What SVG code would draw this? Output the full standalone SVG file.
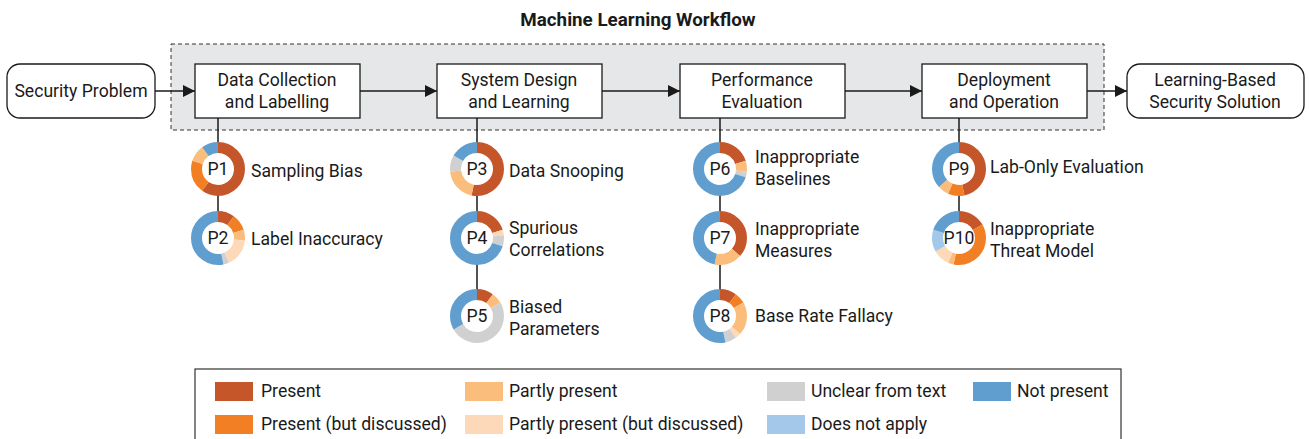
<svg xmlns="http://www.w3.org/2000/svg" width="1309" height="439" viewBox="0 0 1309 439">
<style>
text{font-family:Roboto,"Liberation Sans",sans-serif;font-size:17.6px;fill:#1a1a1a}
.title{font-weight:bold;font-size:18.8px}
.mid{text-anchor:middle}
.box{fill:#fff;stroke:#1a1a1a;stroke-width:1.3}
.conn{stroke:#1a1a1a;stroke-width:1.5;fill:none}
.seg{fill:none;stroke-width:11}
.pres{stroke:#c4562a}.presd{stroke:#f27f24}.part{stroke:#fbbd7b}.partd{stroke:#fdd9ba}.unc{stroke:#d0d0d0}.dna{stroke:#a3c8ea}.not{stroke:#5f9ecf}
.hole{fill:#fff}
</style>
<defs>
<marker id="arr" markerUnits="userSpaceOnUse" markerWidth="12" markerHeight="12" refX="12" refY="6" orient="auto">
<path d="M0,0 L12,6 L0,12 z" fill="#1a1a1a"/>
</marker>
</defs>
<rect width="1309" height="439" fill="#fff"/>
<text x="638" y="26" class="title mid">Machine Learning Workflow</text>
<rect id="workflow" x="171" y="44" width="933" height="86" fill="#e6e7e8" stroke="#333" stroke-width="1" stroke-dasharray="4 3"/>

<g id="connectors">
<line class="conn" x1="155" y1="91" x2="195" y2="91" marker-end="url(#arr)"/>
<line class="conn" x1="360" y1="91" x2="437" y2="91" marker-end="url(#arr)"/>
<line class="conn" x1="602" y1="91" x2="680" y2="91" marker-end="url(#arr)"/>
<line class="conn" x1="845" y1="91" x2="922" y2="91" marker-end="url(#arr)"/>
<line class="conn" x1="1087" y1="91" x2="1127" y2="91" marker-end="url(#arr)"/>
<line class="conn" x1="218" y1="118" x2="218" y2="238"/>
<line class="conn" x1="477" y1="118" x2="477" y2="316"/>
<line class="conn" x1="720" y1="118" x2="720" y2="316"/>
<line class="conn" x1="959" y1="118" x2="959" y2="238"/>
</g>

<g id="security-problem"><rect x="7" y="64" width="148" height="54" rx="13" class="box"/><text x="81" y="97" class="mid">Security Problem</text></g>
<g id="data-collection"><rect x="195" y="64" width="165" height="54" class="box"/><text x="277" y="86" class="mid">Data Collection</text><text x="277" y="108" class="mid">and Labelling</text></g>
<g id="system-design"><rect x="437" y="64" width="165" height="54" class="box"/><text x="519" y="86" class="mid">System Design</text><text x="519" y="108" class="mid">and Learning</text></g>
<g id="performance"><rect x="680" y="64" width="165" height="54" class="box"/><text x="762" y="86" class="mid">Performance</text><text x="762" y="108" class="mid">Evaluation</text></g>
<g id="deployment"><rect x="922" y="64" width="165" height="54" class="box"/><text x="1004" y="86" class="mid">Deployment</text><text x="1004" y="108" class="mid">and Operation</text></g>
<g id="solution"><rect x="1127" y="64" width="177" height="54" rx="13" class="box"/><text x="1215" y="86" class="mid">Learning-Based</text><text x="1215" y="108" class="mid">Security Solution</text></g>

<g id="p1" transform="translate(218 169)"><circle r="16" class="hole"/><g transform="rotate(-90)">
<circle r="21.5" pathLength="30" class="seg pres" stroke-dasharray="18 30" stroke-dashoffset="0"/>
<circle r="21.5" pathLength="30" class="seg presd" stroke-dasharray="6 30" stroke-dashoffset="-18"/>
<circle r="21.5" pathLength="30" class="seg part" stroke-dasharray="3 30" stroke-dashoffset="-24"/>
<circle r="21.5" pathLength="30" class="seg not" stroke-dasharray="3 30" stroke-dashoffset="-27"/>
</g><text y="6" class="mid">P1</text></g>
<text x="251" y="177">Sampling Bias</text>

<g id="p2" transform="translate(218 238)"><circle r="16" class="hole"/><g transform="rotate(-90)">
<circle r="21.5" pathLength="30" class="seg pres" stroke-dasharray="3 30" stroke-dashoffset="0"/>
<circle r="21.5" pathLength="30" class="seg presd" stroke-dasharray="3 30" stroke-dashoffset="-3"/>
<circle r="21.5" pathLength="30" class="seg part" stroke-dasharray="2 30" stroke-dashoffset="-6"/>
<circle r="21.5" pathLength="30" class="seg partd" stroke-dasharray="5 30" stroke-dashoffset="-8"/>
<circle r="21.5" pathLength="30" class="seg unc" stroke-dasharray="1 30" stroke-dashoffset="-13"/>
<circle r="21.5" pathLength="30" class="seg not" stroke-dasharray="16 30" stroke-dashoffset="-14"/>
</g><text y="6" class="mid">P2</text></g>
<text x="251" y="245">Label Inaccuracy</text>

<g id="p3" transform="translate(477 169)"><circle r="16" class="hole"/><g transform="rotate(-90)">
<circle r="21.5" pathLength="30" class="seg pres" stroke-dasharray="16 30" stroke-dashoffset="0"/>
<circle r="21.5" pathLength="30" class="seg part" stroke-dasharray="6 30" stroke-dashoffset="-16"/>
<circle r="21.5" pathLength="30" class="seg unc" stroke-dasharray="3 30" stroke-dashoffset="-22"/>
<circle r="21.5" pathLength="30" class="seg not" stroke-dasharray="5 30" stroke-dashoffset="-25"/>
</g><text y="6" class="mid">P3</text></g>
<text x="509" y="177">Data Snooping</text>

<g id="p4" transform="translate(477 238)"><circle r="16" class="hole"/><g transform="rotate(-90)">
<circle r="21.5" pathLength="30" class="seg pres" stroke-dasharray="6 30" stroke-dashoffset="0"/>
<circle r="21.5" pathLength="30" class="seg partd" stroke-dasharray="1 30" stroke-dashoffset="-6"/>
<circle r="21.5" pathLength="30" class="seg unc" stroke-dasharray="2 30" stroke-dashoffset="-7"/>
<circle r="21.5" pathLength="30" class="seg not" stroke-dasharray="21 30" stroke-dashoffset="-9"/>
</g><text y="6" class="mid">P4</text></g>
<text x="509" y="234">Spurious</text><text x="509" y="256">Correlations</text>

<g id="p5" transform="translate(477 316)"><circle r="16" class="hole"/><g transform="rotate(-90)">
<circle r="21.5" pathLength="30" class="seg pres" stroke-dasharray="3 30" stroke-dashoffset="0"/>
<circle r="21.5" pathLength="30" class="seg part" stroke-dasharray="2 30" stroke-dashoffset="-3"/>
<circle r="21.5" pathLength="30" class="seg unc" stroke-dasharray="15 30" stroke-dashoffset="-5"/>
<circle r="21.5" pathLength="30" class="seg not" stroke-dasharray="10 30" stroke-dashoffset="-20"/>
</g><text y="6" class="mid">P5</text></g>
<text x="509" y="313">Biased</text><text x="509" y="335">Parameters</text>

<g id="p6" transform="translate(720 169)"><circle r="16" class="hole"/><g transform="rotate(-90)">
<circle r="21.5" pathLength="30" class="seg pres" stroke-dasharray="6 30" stroke-dashoffset="0"/>
<circle r="21.5" pathLength="30" class="seg part" stroke-dasharray="2 30" stroke-dashoffset="-6"/>
<circle r="21.5" pathLength="30" class="seg unc" stroke-dasharray="1 30" stroke-dashoffset="-8"/>
<circle r="21.5" pathLength="30" class="seg not" stroke-dasharray="21 30" stroke-dashoffset="-9"/>
</g><text y="6" class="mid">P6</text></g>
<text x="755" y="163">Inappropriate</text><text x="755" y="185">Baselines</text>

<g id="p7" transform="translate(720 238)"><circle r="16" class="hole"/><g transform="rotate(-90)">
<circle r="21.5" pathLength="30" class="seg pres" stroke-dasharray="11 30" stroke-dashoffset="0"/>
<circle r="21.5" pathLength="30" class="seg part" stroke-dasharray="5 30" stroke-dashoffset="-11"/>
<circle r="21.5" pathLength="30" class="seg not" stroke-dasharray="14 30" stroke-dashoffset="-16"/>
</g><text y="6" class="mid">P7</text></g>
<text x="755" y="235">Inappropriate</text><text x="755" y="257">Measures</text>

<g id="p8" transform="translate(720 316)"><circle r="16" class="hole"/><g transform="rotate(-90)">
<circle r="21.5" pathLength="30" class="seg pres" stroke-dasharray="3 30" stroke-dashoffset="0"/>
<circle r="21.5" pathLength="30" class="seg presd" stroke-dasharray="2 30" stroke-dashoffset="-3"/>
<circle r="21.5" pathLength="30" class="seg part" stroke-dasharray="6 30" stroke-dashoffset="-5"/>
<circle r="21.5" pathLength="30" class="seg partd" stroke-dasharray="1 30" stroke-dashoffset="-11"/>
<circle r="21.5" pathLength="30" class="seg unc" stroke-dasharray="2 30" stroke-dashoffset="-12"/>
<circle r="21.5" pathLength="30" class="seg not" stroke-dasharray="16 30" stroke-dashoffset="-14"/>
</g><text y="6" class="mid">P8</text></g>
<text x="755" y="322">Base Rate Fallacy</text>

<g id="p9" transform="translate(959 169)"><circle r="16" class="hole"/><g transform="rotate(-90)">
<circle r="21.5" pathLength="30" class="seg pres" stroke-dasharray="14 30" stroke-dashoffset="0"/>
<circle r="21.5" pathLength="30" class="seg presd" stroke-dasharray="3 30" stroke-dashoffset="-14"/>
<circle r="21.5" pathLength="30" class="seg part" stroke-dasharray="2 30" stroke-dashoffset="-17"/>
<circle r="21.5" pathLength="30" class="seg not" stroke-dasharray="11 30" stroke-dashoffset="-19"/>
</g><text y="6" class="mid">P9</text></g>
<text x="990" y="173">Lab-Only Evaluation</text>

<g id="p10" transform="translate(959 238)"><circle r="16" class="hole"/><g transform="rotate(-90)">
<circle r="21.5" pathLength="30" class="seg pres" stroke-dasharray="5 30" stroke-dashoffset="0"/>
<circle r="21.5" pathLength="30" class="seg presd" stroke-dasharray="11 30" stroke-dashoffset="-5"/>
<circle r="21.5" pathLength="30" class="seg part" stroke-dasharray="1 30" stroke-dashoffset="-16"/>
<circle r="21.5" pathLength="30" class="seg partd" stroke-dasharray="3 30" stroke-dashoffset="-17"/>
<circle r="21.5" pathLength="30" class="seg dna" stroke-dasharray="4 30" stroke-dashoffset="-20"/>
<circle r="21.5" pathLength="30" class="seg not" stroke-dasharray="6 30" stroke-dashoffset="-24"/>
</g><text y="6" class="mid">P10</text></g>
<text x="990" y="235">Inappropriate</text><text x="990" y="257">Threat Model</text>

<g id="legend">
<rect x="195" y="369" width="926" height="90" fill="#fff" stroke="#333" stroke-width="1.2"/>
<rect x="215" y="382" width="38" height="19" fill="#c4562a"/><text x="261" y="397">Present</text>
<rect x="215" y="415" width="38" height="19" fill="#f27f24"/><text x="261" y="430">Present (but discussed)</text>
<rect x="465" y="382" width="38" height="19" fill="#fbbd7b"/><text x="509" y="397">Partly present</text>
<rect x="465" y="415" width="38" height="19" fill="#fdd9ba"/><text x="509" y="430">Partly present (but discussed)</text>
<rect x="767" y="382" width="38" height="19" fill="#d0d0d0"/><text x="811" y="397">Unclear from text</text>
<rect x="767" y="415" width="38" height="19" fill="#a3c8ea"/><text x="811" y="430">Does not apply</text>
<rect x="973" y="382" width="38" height="19" fill="#5f9ecf"/><text x="1017" y="397">Not present</text>
</g>
</svg>
